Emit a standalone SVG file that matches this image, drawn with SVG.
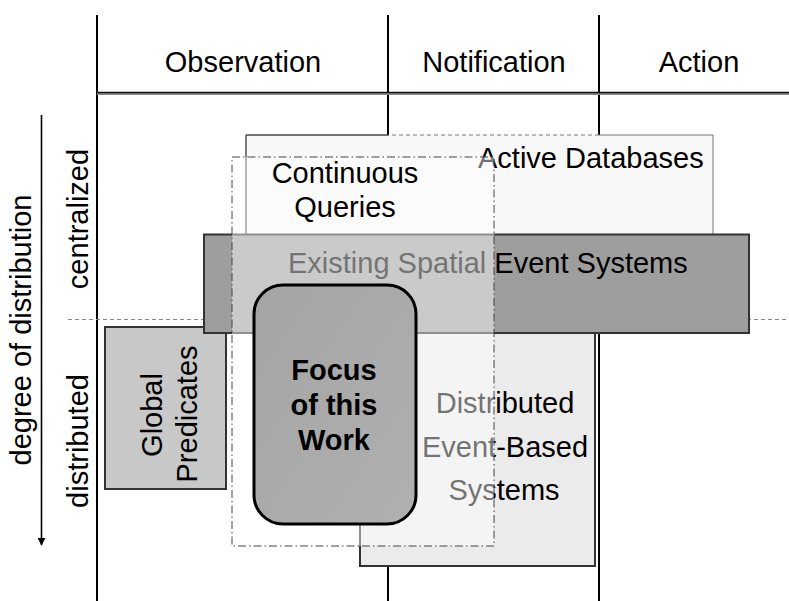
<svg xmlns="http://www.w3.org/2000/svg" width="789" height="601" viewBox="0 0 789 601">
  <style>
    text { font-family: "Liberation Sans", Arial, sans-serif; font-size: 29px; fill: #000; }
    .mid { text-anchor: middle; }
    .bold { font-weight: bold; }
    .grid { stroke: #000; stroke-width: 2; fill: none; }
    .box { stroke: #333; stroke-width: 2; }
  </style>
  <defs>
    <marker id="arrowDown" viewBox="0 0 10 10" refX="9" refY="5" markerWidth="8" markerHeight="8" orient="auto" markerUnits="userSpaceOnUse">
      <path d="M0,0 L10,5 L0,10 z" fill="#000"/>
    </marker>
    <linearGradient id="focusFill" x1="0" y1="0" x2="1" y2="1">
      <stop offset="0" stop-color="#a4a4a4"/>
      <stop offset="1" stop-color="#b0b0b0"/>
    </linearGradient>
  </defs>

  <rect width="789" height="601" fill="#fff"/>

  <!-- classification grid -->
  <g id="grid">
    <line class="grid" x1="97" y1="15" x2="97" y2="601"/>
    <line class="grid" x1="388" y1="15" x2="388" y2="601"/>
    <line class="grid" x1="599" y1="15" x2="599" y2="601"/>
    <line x1="97" y1="94" x2="789" y2="94" stroke="#888" stroke-width="2"/>
    <line x1="97" y1="92.5" x2="789" y2="92.5" stroke="#111" stroke-width="1.5"/>
    <line x1="68" y1="319.5" x2="789" y2="319.5" stroke="#888" stroke-width="1.2" stroke-dasharray="4,3"/>
  </g>

  <!-- column headers -->
  <g id="headers">
    <text class="mid" x="243" y="72">Observation</text>
    <text class="mid" x="494" y="72">Notification</text>
    <text class="mid" x="699" y="72">Action</text>
  </g>

  <!-- vertical axis -->
  <g id="axis">
    <line x1="41.5" y1="115" x2="41.5" y2="545" stroke="#000" stroke-width="1.6" marker-end="url(#arrowDown)"/>
    <text class="mid" transform="translate(31,330) rotate(-90)">degree of distribution</text>
    <text class="mid" transform="translate(88,219) rotate(-90)">centralized</text>
    <text class="mid" transform="translate(88,441) rotate(-90)">distributed</text>
  </g>

  <!-- Active Databases -->
  <g id="active-databases">
    <rect x="246" y="135" width="467" height="105" fill="#f8f8f8"/>
    <line x1="246" y1="135" x2="246" y2="240" stroke="#555" stroke-width="1.5"/>
    <line x1="246" y1="135" x2="389" y2="135" stroke="#444" stroke-width="1.5"/>
    <line x1="392" y1="135" x2="599" y2="135" stroke="#777" stroke-width="1" stroke-dasharray="4,3"/>
    <line x1="599" y1="135" x2="713" y2="135" stroke="#777" stroke-width="1"/>
    <line x1="713" y1="135" x2="713" y2="240" stroke="#777" stroke-width="1"/>
    <text x="478" y="168">Active Databases</text>
  </g>

  <!-- Global Predicates -->
  <g id="global-predicates">
    <rect class="box" x="105" y="327" width="121" height="162" fill="#c8c8c8"/>
    <text class="mid" transform="translate(162,415) rotate(-90)">Global</text>
    <text class="mid" transform="translate(197,414) rotate(-90)">Predicates</text>
  </g>

  <!-- Distributed Event-Based Systems -->
  <g id="distributed-event-based-systems">
    <rect class="box" x="360" y="330" width="235" height="236" fill="#ebebeb"/>
    <text class="mid" x="505" y="413">Distributed</text>
    <text class="mid" x="505" y="457">Event-Based</text>
    <text class="mid" x="504" y="500">Systems</text>
  </g>

  <!-- Existing Spatial Event Systems -->
  <g id="existing-spatial-event-systems">
    <rect class="box" x="204" y="234.5" width="545" height="98.5" fill="#9e9e9e"/>
    <text x="288" y="273">Existing Spatial Event Systems</text>
  </g>

  <!-- Continuous Queries (translucent, dash-dot) -->
  <g id="continuous-queries">
    <rect x="232" y="157" width="262" height="389" fill="#fff" fill-opacity="0.45" stroke="#444" stroke-width="1" stroke-dasharray="8,3,1.5,3"/>
    <text class="mid" x="345" y="183">Continuous</text>
    <text class="mid" x="345" y="217">Queries</text>
  </g>

  <!-- Focus of this Work -->
  <g id="focus-of-this-work">
    <rect x="254" y="285" width="162" height="239" rx="29" ry="29" fill="url(#focusFill)" stroke="#000" stroke-width="3"/>
    <text class="mid bold" x="334" y="380">Focus</text>
    <text class="mid bold" x="334" y="415">of this</text>
    <text class="mid bold" x="334" y="450">Work</text>
  </g>
</svg>
